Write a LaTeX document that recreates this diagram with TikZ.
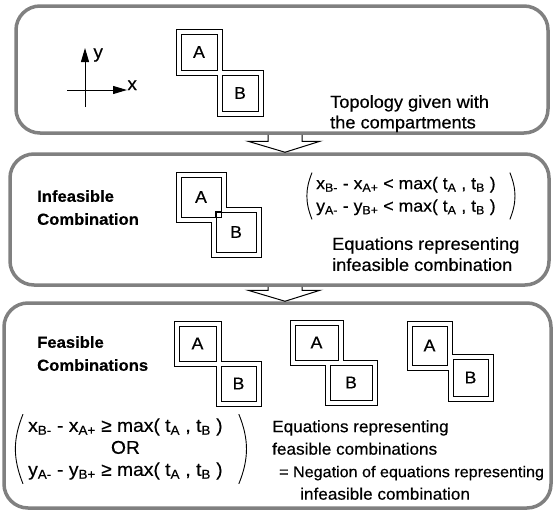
\documentclass[tikz,border=0pt]{standalone}
\usepackage{fontspec}
\setmainfont{Liberation Sans}[FakeStretch=1.04,FakeBold=0.5]
\usetikzlibrary{arrows.meta,calc,positioning}
\newcommand{\maxt}{max( t\textsubscript{A} , t\textsubscript{B} )}

\begin{document}
\begin{tikzpicture}[x=1pt,y=-1pt,>={Triangle[length=14pt,width=8pt]},
  panel/.style={draw=black!50,line width=3.5pt,rounded corners=24pt,inner sep=0pt},
  room/.style={draw,line width=1pt,inner sep=0pt,font=\fontsize{17}{17}\selectfont},
  wall/.style={draw,line width=1pt},
  txt/.style={inner sep=0pt,align=left,font=\fontsize{17.5}{20.5}\selectfont},
  head/.style={inner sep=0pt,align=left,font=\bfseries\fontsize{16}{23}\selectfont},
  eqn/.style={inner sep=0pt,align=center,font=\fontsize{17}{22.5}\selectfont},
  paren/.style={line width=0.9pt,bend right=22},
  flow/.style={line width=1pt}]
\useasboundingbox (0,0) rectangle (555,512);

% the three stages
\node[panel,minimum width=532pt,minimum height=127pt] (topo) at (282,69.5) {};
\node[panel,minimum width=539pt,minimum height=131pt] (infeas) at (279.5,219.5) {};
\node[panel,minimum width=547pt,minimum height=205pt] (feas) at (277.5,405.5) {};
\coordinate (ax) at (285,0);
\draw[flow] ($(topo.south -| ax)+(-17,0)$) |- ($(infeas.north -| ax)+(-37,-11)$) -- (infeas.north -| ax)
  -- ($(infeas.north -| ax)+(35,-11)$) -| ($(topo.south -| ax)+(17,0)$);
\draw[flow] ($(infeas.south -| ax)+(-17,0)$) |- ($(feas.north -| ax)+(-37,-11)$) -- (feas.north -| ax)
  -- ($(feas.north -| ax)+(35,-11)$) -| ($(infeas.south -| ax)+(17,0)$);

% topology
\coordinate (orig) at (85,90);
\draw[flow,->] ($(orig)+(-18,0)$) -- ($(orig)+(42,0)$)
  node[txt,anchor=base west,font=\fontsize{18}{18}\selectfont] (xlab) {x};
\draw[flow,->] ($(orig)+(0,17)$) -- ($(orig)+(0,-42)$)
  node[txt,anchor=north west,xshift=8pt,font=\fontsize{18}{18}\selectfont] (ylab) {y};
\node[room,minimum width=36pt,minimum height=36pt] (A1) at (199,52) {A};
\node[room,minimum width=36pt,minimum height=36pt] (B1) at (240,93) {B};
\draw[wall] (176,29) -- (222,29) -- (222,70) -- (263,70) -- (263,116) -- (217,116) -- (217,75) -- (176,75) -- cycle;
\node[txt,anchor=north west] (topotxt) at (330,95) {Topology given with\\the compartments};

% infeasible
\node[head,anchor=north west] (infhead) at (37,190) {Infeasible\\Combination};
\node[room,minimum width=40pt,minimum height=40pt] (A2) at (201,197) {A};
\node[room,minimum width=40pt,minimum height=40pt] (B2) at (236,232) {B};
\draw[wall] (176,172) -- (226,172) -- (226,207) -- (261,207) -- (261,257) -- (211,257) -- (211,222) -- (176,222) -- cycle;
\draw[line width=1.8pt] (B2.north west) rectangle (A2.south east);
\node[eqn,anchor=west,align=left] (infeq) at (316,196)
  {x\textsubscript{B-} - x\textsubscript{A+} < \maxt\\y\textsubscript{A-} - y\textsubscript{B+} < \maxt};
\draw[paren] ([xshift=-4pt,yshift=4pt]infeq.north west) to ([xshift=-4pt,yshift=-4pt]infeq.south west);
\draw[paren] ([xshift=14pt,yshift=-4pt]infeq.south east) to ([xshift=14pt,yshift=4pt]infeq.north east);
\node[txt,anchor=north west,font=\fontsize{17.5}{21}\selectfont] (infnote) at (332,237) {Equations representing\\infeasible combination};

% feasible
\node[head,anchor=north west] (feashead) at (37,336) {Feasible\\Combinations};
\node[room,minimum width=37pt,minimum height=35pt] (A3) at (197.5,343.5) {A};
\node[room,minimum width=35pt,minimum height=35pt] (B3) at (238.5,383.5) {B};
\draw[wall] (174,321) -- (221,321) -- (221,361) -- (261,361) -- (261,406) -- (216,406) -- (216,366) -- (174,366) -- cycle;
\node[room,minimum width=43pt,minimum height=35pt] (A4) at (316.5,342.5) {A};
\node[room,minimum width=42pt,minimum height=35pt] (B4) at (351,382.5) {B};
\draw[wall] (290,320) -- (343,320) -- (343,360) -- (377,360) -- (377,405) -- (325,405) -- (325,365) -- (290,365) -- cycle;
\node[room,minimum width=35pt,minimum height=39pt] (A5) at (429.5,345.5) {A};
\node[room,minimum width=35pt,minimum height=37pt] (B5) at (470.5,377.5) {B};
\draw[wall] (407,321) -- (452,321) -- (452,354) -- (493,354) -- (493,401) -- (448,401) -- (448,370) -- (407,370) -- cycle;
\node[eqn,anchor=west,font=\fontsize{18.5}{22}\selectfont] (feaseq) at (28,449)
  {x\textsubscript{B-} - x\textsubscript{A+} ≥ \maxt\\OR\\y\textsubscript{A-} - y\textsubscript{B+} ≥ \maxt};
\draw[paren] ([xshift=-5pt,yshift=4pt]feaseq.north west) to ([xshift=-5pt,yshift=-4pt]feaseq.south west);
\draw[paren] ([xshift=16pt,yshift=-4pt]feaseq.south east) to ([xshift=16pt,yshift=4pt]feaseq.north east);
\node[txt,anchor=north west,font=\fontsize{16.5}{22.5}\selectfont] (feasnote) at (272,420) {Equations representing\\feasible combinations\\
  \hspace*{7pt}{\fontsize{15.5}{22.5}\selectfont = Negation of equations representing}\\\hspace*{28pt}infeasible combination};
\end{tikzpicture}
\end{document}
